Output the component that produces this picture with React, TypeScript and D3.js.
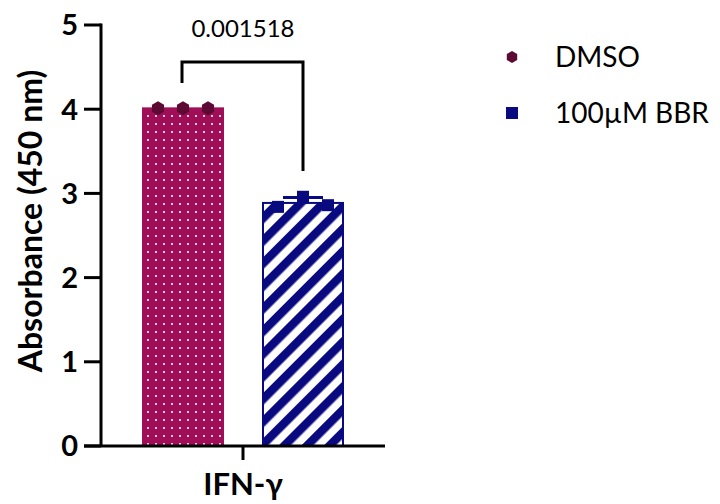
import React from 'react'
import * as d3 from 'd3'

const groups = ['DMSO', '100µM BBR']
const category = 'IFN-γ'
const dmsoPoints = [4.01, 4.01, 4.01]
const bbrPoints = [2.84, 2.96, 2.86]
const yTicks = [0, 1, 2, 3, 4, 5]
const pLabel = '0.001518'

const W = 720
const H = 504
const font = 'Lato, "Open Sans", sans-serif'
const colors = { dmso: '#a00e58', dmsoDot: '#5c0a33', bbr: '#0a0a80' }

export default function App() {
  const y = d3.scaleLinear().domain([0, 5]).range([446, 25])
  const x = d3.scaleBand().domain(groups).range([123, 363]).paddingInner(1 / 3).paddingOuter(1 / 6)
  const bw = x.bandwidth()
  const series = [
    { name: groups[0], pts: dmsoPoints, fill: 'url(#dots)', stroke: colors.dmso },
    { name: groups[1], pts: bbrPoints, fill: 'url(#stripes)', stroke: colors.bbr },
  ]
  const hex = (cx: number, cy: number, r: number) =>
    d3.range(6).map((i) => {
      const a = (Math.PI / 3) * i + Math.PI / 6
      return `${cx + r * Math.cos(a)},${cy + r * Math.sin(a)}`
    }).join(' ')

  const xl = x(groups[0])! + bw / 2 - 1
  const xr = x(groups[1])! + bw / 2
  const xMid = (x(groups[0])! + x(groups[1])! + bw) / 2

  return (
    <svg width={W} height={H} style={{ position: 'absolute', left: 0, top: 0, background: '#fff' }}>
      <defs>
        <pattern id="dots" width={8} height={8} patternUnits="userSpaceOnUse">
          <rect width={8} height={8} fill={colors.dmso} />
          <rect x={3} y={3} width={2} height={2} fill="#f4c8de" />
        </pattern>
        <pattern id="stripes" width={16} height={16} patternUnits="userSpaceOnUse" patternTransform="rotate(45)">
          <rect width={16} height={16} fill="#fff" />
          <rect width={8.5} height={16} fill={colors.bbr} />
        </pattern>
      </defs>

      {series.map((s, i) => {
        const mean = d3.mean(s.pts)!
        const sd = d3.deviation(s.pts) || 0
        const x0 = x(s.name)!
        const cx = x0 + bw / 2
        return (
          <g key={s.name}>
            <rect x={x0} y={y(mean)} width={bw} height={y(0) - y(mean)} fill={s.fill} stroke={s.stroke} strokeWidth={2} />
            {sd > 0 && (
              <g stroke={s.stroke} strokeWidth={3}>
                <line x1={cx} x2={cx} y1={y(mean)} y2={y(mean + sd)} />
                <line x1={cx - 20} x2={cx + 20} y1={y(mean + sd)} y2={y(mean + sd)} />
              </g>
            )}
            {s.pts.map((v, j) => {
              const px = cx + (j - 1) * 25
              return i === 0 ? (
                <polygon key={j} points={hex(px, y(v), 7)} fill={colors.dmsoDot} />
              ) : (
                <rect key={j} x={px - 6} y={y(v) - 6} width={12} height={12} fill={colors.bbr} />
              )
            })}
          </g>
        )
      })}

      {/* axes */}
      <g stroke="#000" strokeWidth={3} fill="none">
        <line x1={101} x2={101} y1={y(5) - 1.5} y2={y(0)} />
        <line x1={84} x2={385} y1={y(0)} y2={y(0)} />
        {yTicks.map((t) => (
          <line key={t} x1={84} x2={101} y1={y(t)} y2={y(t)} />
        ))}
        <line x1={xMid} x2={xMid} y1={y(0)} y2={y(0) + 14} />
      </g>
      {yTicks.map((t) => (
        <text key={t} x={78} y={y(t)} dy="0.36em" textAnchor="end" fontFamily={font} fontWeight="bold" fontSize={29}>
          {t}
        </text>
      ))}
      <text x={xMid} y={495} textAnchor="middle" fontFamily={font} fontWeight="bold" fontSize={31}>
        {category}
      </text>
      <text transform="translate(42, 221) rotate(-90)" textAnchor="middle" fontFamily={font} fontWeight="bold" fontSize={32}>
        Absorbance (450 nm)
      </text>

      {/* significance bracket */}
      <path d={`M${xl},83 V62 H${xr} V171`} fill="none" stroke="#000" strokeWidth={3} />
      <text x={xMid} y={37} textAnchor="middle" fontFamily={font} fontSize={24}>
        {pLabel}
      </text>

      {/* legend */}
      <polygon points={hex(512, 57, 6)} fill={colors.dmsoDot} />
      <text x={555} y={57} dy="0.36em" fontFamily={font} fontSize={28}>
        {groups[0]}
      </text>
      <rect x={506} y={107} width={12} height={12} fill={colors.bbr} />
      <text x={555} y={113} dy="0.36em" fontFamily={font} fontSize={28}>
        {groups[1]}
      </text>
    </svg>
  )
}
